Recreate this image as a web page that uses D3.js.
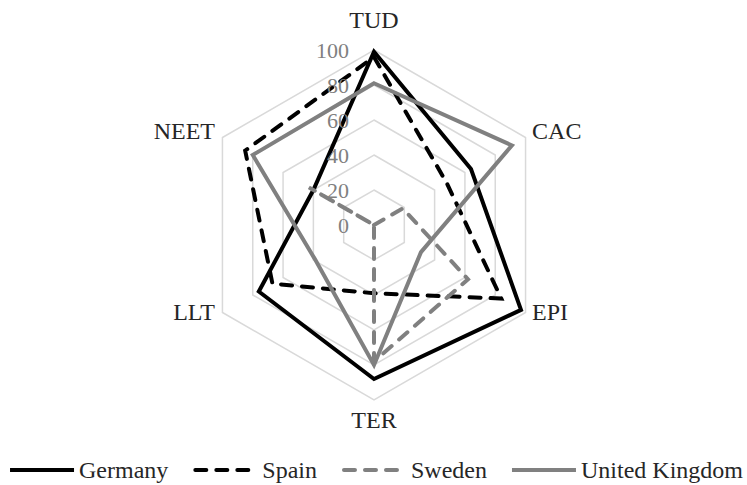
<!DOCTYPE html>
<html>
<head>
<meta charset="utf-8">
<script src="https://cdn.jsdelivr.net/npm/d3@7"></script>
<style>
  html, body { margin: 0; padding: 0; background: #fff; }
  svg { display: block; }
  text { font-family: "Liberation Serif", "Times New Roman", serif; }
</style>
</head>
<body>
<svg id="chart" width="747" height="485"></svg>
<script>
const axes = ["TUD", "CAC", "EPI", "TER", "LLT", "NEET"];
const seriesNames = ["Germany", "Spain", "Sweden", "United Kingdom"];
const germany = [99, 64, 97, 88, 76, 40];
const spain = [96, 48, 84, 39, 67, 85];
const sweden = [0, 19, 62, 78, 0, 43];
const unitedKingdom = [81, 91, 31, 80, 39, 80];
const tickValues = [0, 20, 40, 60, 80, 100];

const seriesValues = [germany, spain, sweden, unitedKingdom];
const styles = [
  { color: "#000000", dash: null },
  { color: "#000000", dash: "11,10" },
  { color: "#808080", dash: "11,10" },
  { color: "#808080", dash: null }
];

const W = 747, H = 485;
const cx = 374, cy = 225, R = 175;
const svg = d3.select("#chart");

const r = d3.scaleLinear().domain([0, 100]).range([0, R]);
const angle = d3.scalePoint().domain(axes).range([0, 2 * Math.PI * (axes.length - 1) / axes.length]);

const g = svg.append("g").attr("transform", `translate(${cx},${cy})`);

// grid hexagons
const gridLine = d3.lineRadial().angle(d => angle(d.axis)).radius(d => r(d.v)).curve(d3.curveLinearClosed);
g.append("g").selectAll("path")
  .data(tickValues.filter(t => t > 0))
  .join("path")
  .attr("d", t => gridLine(axes.map(a => ({ axis: a, v: t }))))
  .attr("fill", "none")
  .attr("stroke", "#d9d9d9")
  .attr("stroke-width", 1.5);

// series
const line = d3.lineRadial().angle(d => angle(d.axis)).radius(d => r(d.v)).curve(d3.curveLinearClosed);
g.append("g").selectAll("path")
  .data(seriesValues.map((vals, i) => ({ i, pts: axes.map((a, k) => ({ axis: a, v: vals[k] })) })))
  .join("path")
  .attr("d", d => line(d.pts))
  .attr("fill", "none")
  .attr("stroke", d => styles[d.i].color)
  .attr("stroke-width", 4)
  .attr("stroke-linejoin", "miter")
  .attr("stroke-linecap", d => styles[d.i].dash ? "round" : "butt")
  .attr("stroke-dasharray", d => styles[d.i].dash);

// tick labels
g.append("g").selectAll("text")
  .data(tickValues)
  .join("text")
  .attr("x", -25)
  .attr("y", t => -r(t))
  .attr("dy", "0.35em")
  .attr("text-anchor", "end")
  .attr("fill", "#808080")
  .attr("font-size", 22)
  .text(t => t);

// axis labels
g.append("g").selectAll("text")
  .data(axes)
  .join("text")
  .attr("font-size", 24)
  .attr("fill", "#262626")
  .each(function(a) {
    const th = angle(a);
    const sx = Math.sin(th), sy = -Math.cos(th);
    const vx = R * sx, vy = R * sy;
    const t = d3.select(this);
    if (Math.abs(sx) < 0.01) {
      t.attr("text-anchor", "middle").attr("x", 0)
       .attr("y", sy < 0 ? vy - 22 : vy + 28);
    } else {
      t.attr("text-anchor", sx > 0 ? "start" : "end")
       .attr("x", sx > 0 ? vx + 6.5 : vx - 7.5)
       .attr("y", vy + (sy < 0 ? 1.5 : 7.5));
    }
  })
  .text(a => a);

// legend
const legend = svg.append("g");
const sampleLen = 64, textOffset = 69, itemGap = 25;
const items = [];
seriesNames.forEach((name, i) => {
  const it = legend.append("g");
  it.append("line")
    .attr("x1", styles[i].dash ? 2 : 0).attr("x2", sampleLen)
    .attr("y1", 0).attr("y2", 0)
    .attr("stroke", styles[i].color)
    .attr("stroke-width", 4)
    .attr("stroke-linecap", styles[i].dash ? "round" : "butt")
    .attr("stroke-dasharray", styles[i].dash ? "11,10" : null);
  const tx = it.append("text")
    .attr("x", textOffset)
    .attr("y", 0).attr("dy", "0.32em")
    .attr("font-size", 24)
    .attr("fill", "#262626")
    .text(name);
  const w = textOffset + tx.node().getComputedTextLength();
  items.push({ it, w });
});
const total = items.reduce((s, d) => s + d.w, 0) + itemGap * (items.length - 1);
let xpos = (W - total) / 2 + 3;
items.forEach(d => {
  d.it.attr("transform", `translate(${xpos},470)`);
  xpos += d.w + itemGap;
});
</script>
</body>
</html>
